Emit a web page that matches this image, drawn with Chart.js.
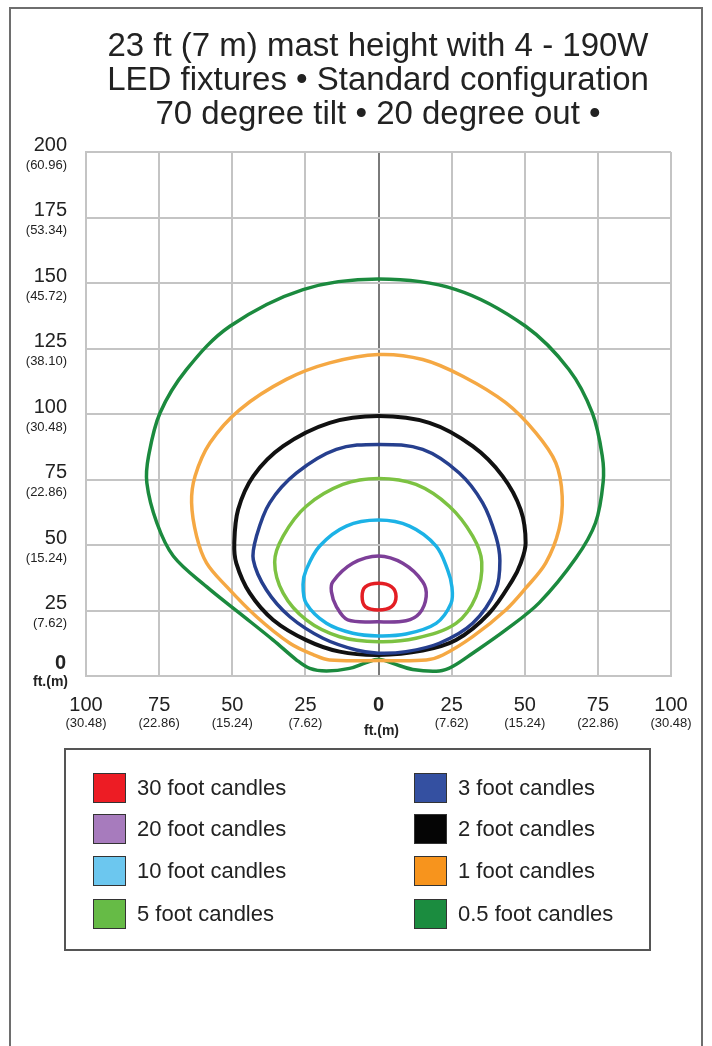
<!DOCTYPE html>
<html>
<head>
<meta charset="utf-8">
<script src="https://cdn.jsdelivr.net/npm/chart.js@4.4.1/dist/chart.umd.min.js"></script>
<style>
  body { margin: 0; width: 712px; height: 1046px; overflow: hidden; background: #fff; font-family: 'Liberation Sans', Arial, sans-serif; color: #222; }
  #frame { position: absolute; left: 9px; top: 7px; width: 694px; height: 1100px; border: 2px solid #6e6e6e; box-sizing: border-box; }
  #chartWrap { position: absolute; left: 0; top: 0; width: 712px; height: 1046px; }
  #title { position: absolute; left: 0; top: 28px; width: 756px; text-align: center; font-size: 33px; line-height: 34px; }
  #legend { position: absolute; left: 64px; top: 748px; width: 587px; height: 203px; border: 2px solid #555; box-sizing: border-box; }
  .sw { position: absolute; width: 33px; height: 30px; border: 1px solid #333; box-sizing: border-box; }
  .lt { position: absolute; font-size: 22px; line-height: 30px; white-space: nowrap; }
</style>
</head>
<body>
<div id="frame"></div>
<div id="chartWrap"><canvas id="chart" width="712" height="1046"></canvas></div>
<div id="title">23 ft (7 m) mast height with 4 - 190W<br>LED fixtures • Standard configuration<br>70 degree tilt • 20 degree out •</div>
<div id="legend"></div>
<script>
// contour outlines, [feet across, feet out], traced clockwise from the top
const fc30 = [[0, 35.4], [4.5, 34], [6, 30.3], [4.5, 26.5], [0, 25.2], [-4.5, 26.5], [-5.6, 30.3], [-4.5, 34]]
const fc20 = [[0, 45.8], [8.3, 43], [15.1, 36], [16.3, 30.3], [14, 23.9], [9.4, 21.1], [0, 20.7], [-10.5, 21.4], [-14.4, 26.5], [-16.1, 32.2], [-15.6, 36], [-8.8, 43]]
const fc10 = [[0, 59.5], [10.6, 57.2], [19.7, 49.6], [23.6, 40.6], [25.1, 34], [24.8, 27.7], [19.7, 20.1], [9.4, 16], [0, 15.3], [-8.8, 16.3], [-17.8, 20.1], [-24.7, 27.7], [-25.8, 35], [-24.7, 40.6], [-20.1, 49.6], [-11, 57.2]]
const fc5 = [[0, 75.4], [12.8, 73.1], [24.2, 64.8], [32.2, 53.4], [35.3, 43.5], [33.3, 30.3], [26.5, 20.1], [12.8, 14.4], [0, 13.1], [-13.3, 15], [-24.7, 21.4], [-32.6, 31.6], [-35.5, 43.5], [-32.6, 53.4], [-24.7, 64.8], [-12.2, 73.1]]
const fc3 = [[0, 88.4], [15.1, 86.5], [27.6, 77.5], [35.6, 66.1], [40.1, 53.4], [41.5, 44], [40.1, 32.8], [32.2, 20.1], [20.8, 12.5], [9.4, 9.3], [0, 8.7], [-7.6, 9.9], [-19, 14.4], [-30.3, 22.6], [-38.3, 32.8], [-42.8, 44.3], [-41.7, 53.4], [-37.2, 66.1], [-28, 77.5], [-14.4, 86.5]]
const fc2 = [[0, 99.2], [17.4, 96.6], [32.2, 87.7], [42.4, 76.3], [48.6, 63.5], [50.3, 50.8], [48.6, 43], [45.8, 36.6], [37.8, 23.9], [26.5, 13.7], [15.1, 9.7], [0, 8], [-13.3, 9.3], [-24.7, 13.7], [-36, 21.4], [-44, 31.6], [-48.6, 43], [-49.3, 50.8], [-48, 63.5], [-42.8, 76.3], [-32.6, 87.7], [-16.7, 96.6]]
const fc1 = [[0, 122.7], [15.1, 120.8], [28.8, 114.4], [43.5, 104.3], [53.8, 92.8], [60.6, 81.4], [62.8, 68.6], [61.7, 55.9], [57.2, 43.2], [50.3, 33.5], [43.5, 25.2], [32.2, 15], [22, 8], [16.3, 6.1], [0, 5.9], [-16.7, 6.1], [-22, 8], [-30.3, 12.5], [-41.7, 22.6], [-51.9, 34.1], [-58.8, 43.2], [-62.2, 53.4], [-63.9, 66.1], [-62.7, 76.3], [-57.6, 89], [-47.4, 101.7], [-31.5, 113.2], [-16.7, 119.5]]
const fc05 = [[0, 151.5], [26.5, 147.5], [50.3, 133.5], [65.1, 117], [73.1, 100.4], [76.5, 84], [76.8, 74], [74.2, 58.5], [67.5, 45], [55, 28], [43.5, 17.6], [32.2, 8.7], [25.3, 3.6], [20.8, 1.9], [11.7, 2.5], [4.9, 4.8], [0, 6.4], [-4.2, 5.1], [-9.9, 2.9], [-17.8, 1.9], [-23.5, 2.9], [-28, 6.1], [-36, 13.7], [-47.4, 23.9], [-58.8, 34.1], [-70.1, 45.7], [-75.8, 58.5], [-79.2, 73.7], [-78.6, 84], [-74.7, 100.4], [-65.6, 117], [-50.8, 133.5], [-25.8, 147.5]]

const labels = ['30 foot candles', '20 foot candles', '10 foot candles', '5 foot candles', '3 foot candles', '2 foot candles', '1 foot candles', '0.5 foot candles']
const contours = [fc30, fc20, fc10, fc5, fc3, fc2, fc1, fc05]
const lineColors = ['#e31e24', '#7d3f98', '#1cb2e6', '#7cc242', '#263f8e', '#111111', '#f5a843', '#1b8a3e']
const swatchColors = ['#ed1c24', '#a77bbd', '#6cc7ef', '#66bb46', '#3450a1', '#050505', '#f7941d', '#1b8c3f']

// axis ticks, feet with metres underneath
const yTicksFt = [0, 25, 50, 75, 100, 125, 150, 175, 200]
const yTicksM = ['ft.(m)', '(7.62)', '(15.24)', '(22.86)', '(30.48)', '(38.10)', '(45.72)', '(53.34)', '(60.96)']
const xTicksFt = [-100, -75, -50, -25, 0, 25, 50, 75, 100]
const xTicksM = ['(30.48)', '(22.86)', '(15.24)', '(7.62)', 'ft.(m)', '(7.62)', '(15.24)', '(22.86)', '(30.48)']

const FONT = "'Liberation Sans', Arial, sans-serif"

// draws the two-line tick labels off the chart's own scales
const tickLabels = {
  id: 'tickLabels',
  afterDraw(chart) {
    const { ctx } = chart
    const { x, y } = chart.scales
    ctx.save()
    ctx.fillStyle = '#222'
    ctx.textBaseline = 'middle'
    ctx.textAlign = 'right'
    yTicksFt.forEach((v, i) => {
      const py = y.getPixelForValue(v)
      if (v === 0) {
        ctx.font = 'bold 20px ' + FONT
        ctx.fillText('0', 66, py - 13)
        ctx.font = 'bold 14px ' + FONT
        ctx.fillText(yTicksM[i], 68, py + 6)
      } else {
        ctx.font = '20px ' + FONT
        ctx.fillText(String(v), 67, py - 7)
        ctx.font = '13px ' + FONT
        ctx.fillText(yTicksM[i], 67, py + 13)
      }
    })
    ctx.textAlign = 'center'
    const base = y.getPixelForValue(0)
    xTicksFt.forEach((v, i) => {
      const px = x.getPixelForValue(v)
      if (v === 0) {
        ctx.font = 'bold 20px ' + FONT
        ctx.fillText('0', px, base + 29)
        ctx.font = 'bold 14px ' + FONT
        ctx.fillText(xTicksM[i], px + 3, base + 55)
      } else {
        ctx.font = '20px ' + FONT
        ctx.fillText(String(Math.abs(v)), px, base + 29)
        ctx.font = '13px ' + FONT
        ctx.fillText(xTicksM[i], px, base + 47)
      }
    })
    ctx.restore()
  }
}

// each outline is wrapped one point either side so the curve closes smoothly;
// the two wrap segments are left transparent
const datasets = contours.map((pts, i) => {
  const n = pts.length
  const ring = [pts[n - 1]].concat(pts, [pts[0], pts[1]])
  return {
    label: labels[i],
    data: ring.map(p => ({ x: p[0], y: p[1] })),
    showLine: true,
    borderColor: lineColors[i],
    borderWidth: i === 5 ? 4 : 3.5,
    borderCapStyle: 'round',
    borderJoinStyle: 'round',
    pointRadius: 0,
    tension: 0.35,
    fill: false,
    segment: {
      borderColor: c => (c.p0DataIndex === 0 || c.p0DataIndex === n + 1 ? 'rgba(0,0,0,0)' : undefined)
    }
  }
})

new Chart(document.getElementById('chart'), {
  type: 'scatter',
  data: { datasets },
  options: {
    responsive: false,
    animation: false,
    layout: { padding: { left: 86, right: 41, top: 152, bottom: 370 } },
    plugins: { legend: { display: false }, tooltip: { enabled: false } },
    scales: {
      x: {
        type: 'linear',
        min: -100,
        max: 100,
        ticks: { display: false, stepSize: 25 },
        grid: { color: c => (c.tick && c.tick.value === 0 ? '#7a7a7a' : '#c4c4c4'), lineWidth: 2, drawTicks: false },
        border: { color: '#c4c4c4', width: 2 }
      },
      y: {
        type: 'linear',
        min: 0,
        max: 200,
        ticks: { display: false, stepSize: 25 },
        grid: { color: '#c4c4c4', lineWidth: 2, drawTicks: false },
        border: { color: '#c4c4c4', width: 2 }
      }
    }
  },
  plugins: [tickLabels]
})

// legend box: left column first four, right column last four
const legend = document.getElementById('legend')
const rowTops = [23, 64, 106, 149]
labels.forEach((text, i) => {
  const col = i < 4 ? 0 : 1
  const top = rowTops[i % 4]
  const sw = document.createElement('div')
  sw.className = 'sw'
  sw.style.left = (col ? 348 : 27) + 'px'
  sw.style.top = top + 'px'
  sw.style.background = swatchColors[i]
  legend.appendChild(sw)
  const t = document.createElement('div')
  t.className = 'lt'
  t.style.left = (col ? 392 : 71) + 'px'
  t.style.top = top + 'px'
  t.textContent = text
  legend.appendChild(t)
})
</script>
</body>
</html>
